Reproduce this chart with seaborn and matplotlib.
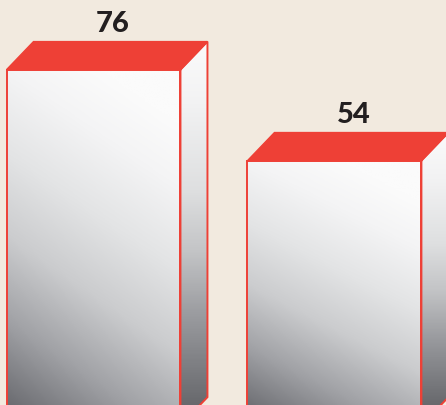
import numpy as np
import pandas as pd
import seaborn as sns
import matplotlib.pyplot as plt
from matplotlib.patches import Polygon
from matplotlib.colors import LinearSegmentedColormap

# datos
categorias = ['A', 'B']
valores = [76, 54]

BASE = -10      # las barras siguen por debajo del borde inferior
DX, DY = 0.112, 6.8   # profundidad del efecto 3D
ROJO = '#ee4036'
FONDO = '#f2eadf'

df = pd.DataFrame({'cat': categorias, 'valor': valores})

sns.set_style('white')
plt.rcParams['font.family'] = ['Lato', 'DejaVu Sans']

fig = plt.figure(figsize=(4.46, 4.06), dpi=100, facecolor=FONDO)
ax = fig.add_axes([0, 0, 1, 1])
ax.set_facecolor(FONDO)

sns.barplot(data=df, x='cat', y='valor', width=0.722, ax=ax,
            facecolor='none', edgecolor=ROJO, linewidth=1.4, zorder=5)

cmap_frente = LinearSegmentedColormap.from_list('frente', [
    (0.0, '#5f6065'), (0.25, '#a1a2a6'), (0.45, '#cbccce'),
    (0.65, '#e3e4e5'), (0.85, '#f4f4f5'), (1.0, '#fbfbfb')])
cmap_lado = LinearSegmentedColormap.from_list('lado', [
    (0.0, '#68696d'), (0.24, '#999a9e'), (0.42, '#c3c4c6'),
    (0.59, '#dedfe0'), (0.83, '#f2f2f3'), (1.0, '#fbfbfb')])

u = np.linspace(0, 1, 60)[None, :]
w = np.linspace(0, 1, 200)[:, None]
grad_frente = np.clip(w * 0.85 + u * 0.28, 0, 1)[::-1]
grad_lado = np.clip(w + u * 0.0, 0, 1)[::-1]

for p, v in zip(ax.patches, valores):
    p.set_y(BASE)
    p.set_height(v - BASE)
    x0 = p.get_x()
    x1 = x0 + p.get_width()

    ax.imshow(grad_frente, cmap=cmap_frente, vmin=0, vmax=1, aspect='auto',
              extent=[x0, x1, BASE, v], zorder=2, interpolation='bilinear')

    lado = Polygon([(x1, v), (x1 + DX, v + DY), (x1 + DX, BASE + DY), (x1, BASE)],
                   closed=True, facecolor='none', edgecolor=ROJO, linewidth=1.4, zorder=5)
    ax.add_patch(lado)
    img = ax.imshow(grad_lado, cmap=cmap_lado, vmin=0, vmax=1, aspect='auto',
                    extent=[x1, x1 + DX, -5.1, v + DY], zorder=2, interpolation='bilinear')
    img.set_clip_path(lado)

    tapa = Polygon([(x0, v), (x0 + DX, v + DY), (x1 + DX, v + DY), (x1, v)],
                   closed=True, facecolor=ROJO, edgecolor=ROJO, linewidth=1.0, zorder=6)
    ax.add_patch(tapa)

    ax.text((x0 + x1) / 2 + DX * 0.7, v + DY + 2.6, str(v), ha='center', va='baseline',
            fontsize=21, fontweight='black', color='#231f20', zorder=7)

ax.set_xlim(-0.388, 1.463)
ax.set_ylim(-5.1, 93.1)
ax.axis('off')

plt.savefig('out.png', dpi=100, facecolor=FONDO)
